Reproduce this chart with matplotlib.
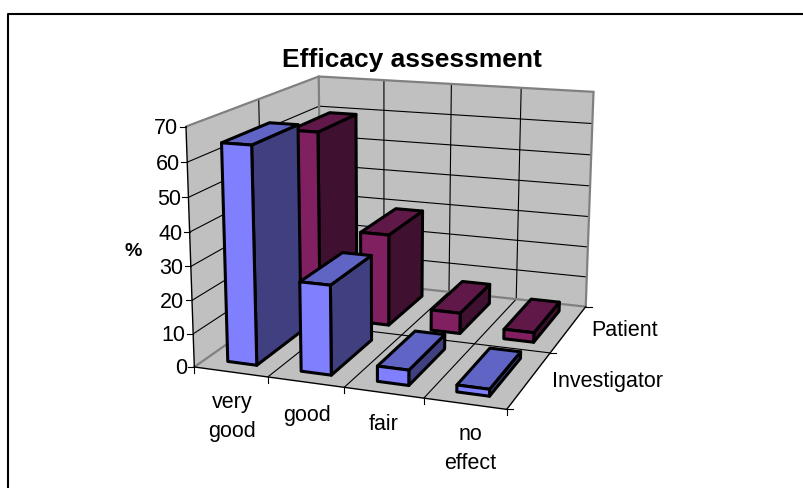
import numpy as np
import matplotlib
matplotlib.use("Agg")
import matplotlib.pyplot as plt

plt.rcParams['font.family'] = ['Liberation Sans', 'DejaVu Sans']

categories = ["very\ngood", "good", "fair", "no\neffect"]
series_names = ["Investigator", "Patient"]
investigator = [64.5, 26.5, 4.5, 2]
patient = [59.5, 29, 6.5, 3]
y_ticks = [0, 10, 20, 30, 40, 50, 60, 70]
y_max = 70

front_colors = ["#8080FF", "#802060"]
top_colors = ["#6064C4", "#601848"]
side_colors = ["#404080", "#401030"]
wall_color = "#C0C0C0"
edge_gray = "#808080"

# box corners (x, depth, height), all 0..1, and where they land in the picture
box_corners = [(0, 0, 0), (1, 0, 0), (1, 1, 0), (0, 1, 0), (0, 0, 1), (0, 1, 1), (1, 1, 1)]
pixel_corners = [(195, 367), (507, 411), (586, 307), (320, 280), (185, 128), (320, 77), (593, 93)]


def fitCamera(box, pixels):
    rows = []
    rhs = []
    for (x, y, z), (u, v) in zip(box, pixels):
        rows.append([x, y, z, 1, 0, 0, 0, 0, -u*x, -u*y, -u*z])
        rhs.append(u)
        rows.append([0, 0, 0, 0, x, y, z, 1, -v*x, -v*y, -v*z])
        rhs.append(v)
    p = np.linalg.lstsq(np.array(rows, float), np.array(rhs, float), rcond=None)[0]
    return np.append(p, 1.0).reshape(3, 4)


camera = fitCamera(box_corners, pixel_corners)


def project(x, y, z):
    q = camera @ np.array([x, y, z, 1.0])
    return q[0] / q[2], q[1] / q[2]


def face(ax, points, color, order):
    xy = [project(*p) for p in points]
    ax.fill([p[0] for p in xy], [p[1] for p in xy], facecolor=color, edgecolor="black",
            lw=2.2, joinstyle="round", zorder=order)


def line3d(ax, a, b, color="black", lw=0.8):
    pa = project(*a)
    pb = project(*b)
    ax.plot([pa[0], pb[0]], [pa[1], pb[1]], color=color, lw=lw, solid_capstyle="round", zorder=2)


def drawBar(ax, i, s, value, order):
    x0 = (i + 0.30) / len(categories)
    x1 = (i + 0.70) / len(categories)
    y0 = (s + 0.16) / len(series_names)
    y1 = (s + 0.84) / len(series_names)
    z = value / y_max
    face(ax, [(x1, y0, 0), (x1, y1, 0), (x1, y1, z), (x1, y0, z)], side_colors[s], order)
    face(ax, [(x0, y0, z), (x1, y0, z), (x1, y1, z), (x0, y1, z)], top_colors[s], order)
    face(ax, [(x0, y0, 0), (x1, y0, 0), (x1, y0, z), (x0, y0, z)], front_colors[s], order)


fig = plt.figure(figsize=(8.04, 4.89), dpi=100)
ax = fig.add_axes([0, 0, 1, 1])
ax.set_xlim(0, 804)
ax.set_ylim(489, 0)
ax.axis("off")

# chart frame
ax.plot([8.5, 8.5, 804], [489, 14.5, 14.5], color="black", lw=1.5)

# walls and floor
for wall in ([(0, 1, 0), (1, 1, 0), (1, 1, 1), (0, 1, 1)],
             [(0, 0, 0), (0, 1, 0), (0, 1, 1), (0, 0, 1)],
             [(0, 0, 0), (1, 0, 0), (1, 1, 0), (0, 1, 0)]):
    xy = [project(*p) for p in wall]
    ax.fill([p[0] for p in xy], [p[1] for p in xy], facecolor=wall_color, edgecolor="none", zorder=1)

# gridlines
for v in y_ticks[1:-1]:
    z = v / y_max
    line3d(ax, (0, 0, z), (0, 1, z))
    line3d(ax, (0, 1, z), (1, 1, z))
for i in range(1, len(categories)):
    x = i / len(categories)
    line3d(ax, (x, 1, 0), (x, 1, 1))
    line3d(ax, (x, 0, 0), (x, 1, 0))
line3d(ax, (0, 0.5, 0), (1, 0.5, 0))
line3d(ax, (0, 0.5, 0), (0, 0.5, 1))

# gray wall edges
for a, b in [((0, 0, 1), (0, 1, 1)), ((0, 1, 1), (1, 1, 1)), ((1, 1, 1), (1, 1, 0)),
             ((0, 1, 0), (0, 1, 1)), ((0, 0, 0), (0, 1, 0)), ((0, 1, 0), (1, 1, 0))]:
    line3d(ax, a, b, color=edge_gray, lw=1.6)

# axis lines with ticks
line3d(ax, (0, 0, 0), (0, 0, 1), lw=1.0)
line3d(ax, (0, 0, 0), (1, 0, 0), lw=1.0)
line3d(ax, (1, 0, 0), (1, 1, 0), lw=1.0)
for v in y_ticks:
    px, py = project(0, 0, v / y_max)
    ax.plot([px - 6, px], [py, py], color="black", lw=0.8)
    ax.text(px - 7.5, py + 1, str(v), ha="right", va="center", fontsize=15.5)
for i in range(len(categories) + 1):
    px, py = project(i / len(categories), 0, 0)
    ax.plot([px, px], [py, py + 6], color="black", lw=0.8)
for s in range(len(series_names) + 1):
    px, py = project(1, s / len(series_names), 0)
    ax.plot([px, px + 6], [py, py], color="black", lw=0.8)

# bars, back series first
values = [investigator, patient]
order = 3
for s in [1, 0]:
    for i in range(len(categories)):
        drawBar(ax, i, s, values[s][i], order)
        order += 1

# text
ax.text(412, 60, "Efficacy assessment", ha="center", va="center", fontsize=19, fontweight="bold")
ax.text(133, 252, "%", ha="center", va="center", fontsize=14, fontweight="bold")
for label, x, y in zip(categories, [232, 307, 384, 470], [417, 416, 424, 449]):
    ax.text(x, y, label, ha="center", va="center", fontsize=15.5, linespacing=1.45)
ax.text(625, 331, series_names[1], ha="center", va="center", fontsize=15.5)
ax.text(608, 382, series_names[0], ha="center", va="center", fontsize=15.5)

fig.savefig("out.png", dpi=100)
